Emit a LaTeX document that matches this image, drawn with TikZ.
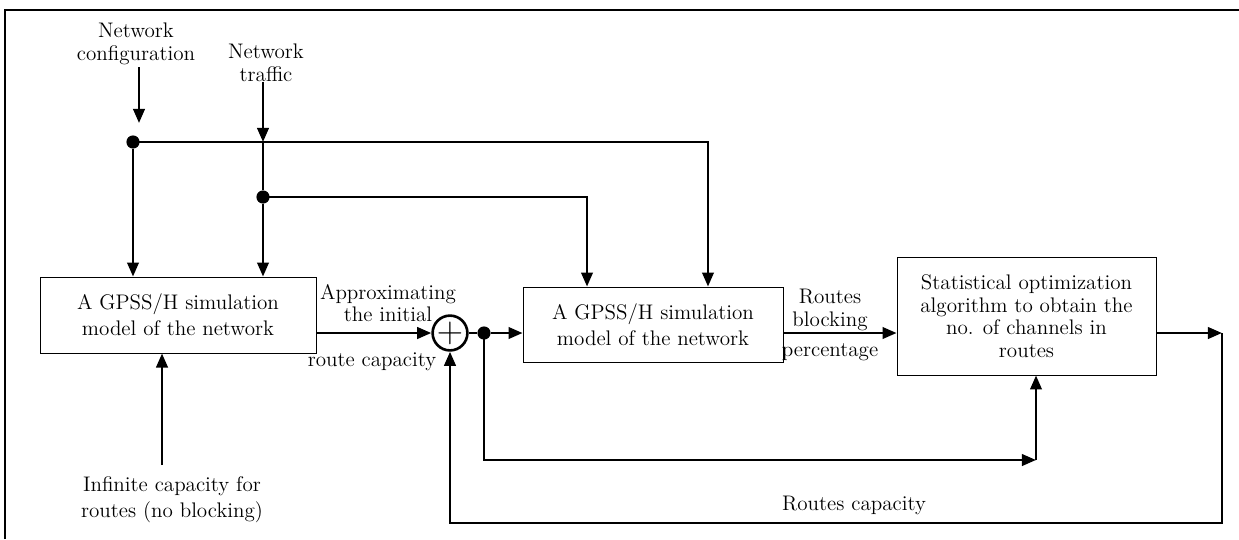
\documentclass[tikz,border=0pt]{standalone}
\usepackage{tikz}
\usetikzlibrary{positioning, calc, arrows.meta}

\tikzset{
  every node/.style={font=\fontsize{12}{12.8}\selectfont},
  blockbox/.style={draw, line width=0.5pt, align=center, inner sep=2pt},
  lbl/.style={align=center, inner sep=1pt},
  flow/.style={line width=1.5pt, -{Triangle[length=8pt,width=6.5pt]}},
  wire/.style={line width=1.5pt},
  junct/.style={circle, fill, inner sep=0pt, minimum size=7.5pt},
}

\begin{document}
\begin{tikzpicture}[x=0.02cm, y=-0.02cm]
      \useasboundingbox (0,0) rectangle (1239,539);
      \draw[line width=1.5pt] (5,539) -- (5,10) -- (1239,10); % frame of the scan

      % blocks
      \node[blockbox, minimum width=5.52cm, minimum height=1.52cm] (sim1) at (178,315)
          {A GPSS/H simulation\\[2pt]model of the network};
      \node[blockbox, minimum width=5.2cm, minimum height=1.5cm] (sim2) at (653,324.5)
          {A GPSS/H simulation\\[2pt]model of the network};
      \node[blockbox, minimum width=5.18cm, minimum height=2.36cm] (opt) at (1026.5,316)
          {Statistical optimization\\algorithm to obtain the\\no. of channels in\\routes};
      \node[circle, draw, line width=1.5pt, minimum size=0.62cm, inner sep=0pt] (sum) at (450,333)
          {\huge$+$};

      % inputs and labels
      \node[lbl] (cfg) at (136,44) {Network\\configuration};
      \node[lbl] (trf) at (266,63) {Network\\traffic};
      \node[lbl] (inf) at (172,500) {Infinite capacity for\\[2pt]routes (no blocking)};
      \node[lbl] (approx) at (388,303) {Approximating\\the initial};
      \node[lbl] (rcap) at (372,362) {route capacity};
      \node[lbl] (blk) at (830,310) {Routes\\blocking};
      \node[lbl] (pct) at (830,352) {percentage};
      \node[lbl] (rcaps) at (854,505) {Routes capacity};

      % junctions
      \node[junct] (j1) at (133,142) {};
      \node[junct] (j2) at (263,197) {};
      \node[junct] (j3) at (484,333) {};

      \coordinate (cfgend) at (139,123);
      \coordinate (trfbeg) at (263,82);
      \coordinate (trfend) at (263,142);
      \coordinate (infbeg) at (162,465);
      \coordinate (c3) at (1036,460);
      \coordinate (c4) at (1222,333);
      \coordinate (c5) at (1222,523);

      % connectors
      \draw[flow] (cfgend |- 0,67) -- (cfgend);
      \draw[flow] (trfbeg) -- (trfend);
      \draw[wire] (trfend) -- (j2);
      \draw[flow] (j1.center) -| ([xshift=1.1cm]sim2.north);
      \draw[flow] (j2.center) -| ([xshift=-1.32cm]sim2.north);
      \draw[flow] (j1) -- (sim1.north -| j1);
      \draw[flow] (j2) -- (sim1.north -| j2);
      \draw[flow] (infbeg) -- (sim1.south -| infbeg);
      \draw[flow] (sim1.east |- sum) -- (sum);
      \draw[wire] (sum) -- (j3);
      \draw[flow] (j3) -- (sim2.west |- j3);
      \draw[flow] (sim2.east |- j3) -- (opt.west |- j3);
      \draw[flow] (j3.center) |- (c3);
      \draw[flow] (c3) -- (opt.south -| c3);
      \draw[flow] (opt.east |- j3) -- (c4);
      \draw[flow] (c4) -- (c5) -| (sum.south);
\end{tikzpicture}
\end{document}
